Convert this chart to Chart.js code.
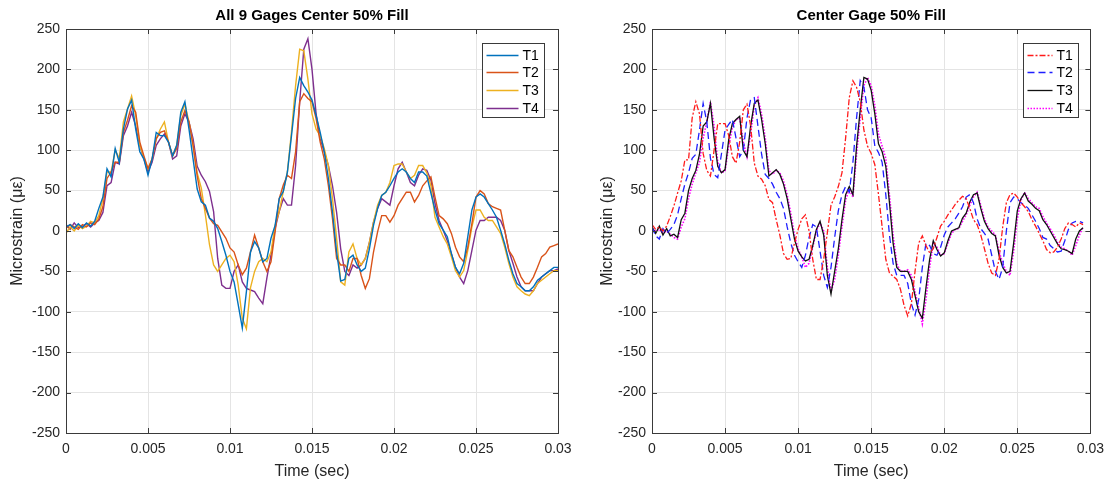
<!DOCTYPE html>
<html>
<head>
<meta charset="utf-8">
<script src="https://cdn.jsdelivr.net/npm/chart.js@4.4.0/dist/chart.umd.min.js"></script>
<style>
  html, body { margin: 0; padding: 0; background: #fff; }
  #wrap { position: relative; width: 1112px; height: 483px; overflow: hidden; }
  canvas { position: absolute; top: 0; }
  #leftChart { left: 0; }
  #rightChart { left: 560px; }
</style>
</head>
<body>
<div id="wrap">
  <canvas id="leftChart" width="620" height="483"></canvas>
  <canvas id="rightChart" width="552" height="483"></canvas>
</div>
<script>
// sample times in milliseconds (axis labelled in seconds)
const timeMs = [
  0, 0.25, 0.5, 0.75, 1, 1.25, 1.5, 1.75,
  2, 2.25, 2.5, 2.75, 3, 3.25, 3.5, 3.75,
  4, 4.25, 4.5, 4.75, 5, 5.25, 5.5, 5.75,
  6, 6.25, 6.5, 6.75, 7, 7.25, 7.5, 7.75,
  8, 8.25, 8.5, 8.75, 9, 9.25, 9.5, 9.75,
  10, 10.25, 10.5, 10.75, 11, 11.25, 11.5, 11.75,
  12, 12.25, 12.5, 12.75, 13, 13.25, 13.5, 13.75,
  14, 14.25, 14.5, 14.75, 15, 15.25, 15.5, 15.75,
  16, 16.25, 16.5, 16.75, 17, 17.25, 17.5, 17.75,
  18, 18.25, 18.5, 18.75, 19, 19.25, 19.5, 19.75,
  20, 20.25, 20.5, 20.75, 21, 21.25, 21.5, 21.75,
  22, 22.25, 22.5, 22.75, 23, 23.25, 23.5, 23.75,
  24, 24.25, 24.5, 24.75, 25, 25.25, 25.5, 25.75,
  26, 26.25, 26.5, 26.75, 27, 27.25, 27.5, 27.75,
  28, 28.25, 28.5, 28.75, 29, 29.25, 29.5, 29.75,
  30
];
const xTickLabels = ['0', '0.005', '0.01', '0.015', '0.02', '0.025', '0.03'];
const seriesNames = ['T1', 'T2', 'T3', 'T4'];

// left plot: all 9 gages, center 50% fill
const gagesT1 = [
  5, 8, 3, 9, 4, 10, 6, 12,
  28, 42, 77, 67, 102, 85, 126, 151,
  162, 126, 98, 89, 69, 89, 122, 118,
  118, 110, 93, 106, 147, 160, 126, 89,
  52, 36, 32, 16, 12, 3, -13, -30,
  -50, -63, -91, -120, -75, -26, -13, -21,
  -38, -34, -9, 7, 40, 49, 73, 118,
  164, 190, 180, 172, 162, 143, 122, 98,
  65, 23, -26, -62, -60, -34, -30, -42,
  -50, -46, -22, 7, 28, 44, 48, 56,
  65, 73, 77, 73, 65, 60, 73, 73,
  68, 47, 26, 9, 1, -7, -28, -45,
  -53, -40, -7, 26, 42, 46, 42, 34,
  26, 17, 1, -16, -36, -53, -65, -69,
  -74, -74, -69, -61, -57, -53, -49, -45,
  -45
];
const gagesT2 = [
  3, 8, 5, 2, 8, 5, 10, 8,
  15, 30, 65, 73, 85, 85, 122, 137,
  155, 147, 110, 93, 77, 89, 114, 122,
  124, 110, 93, 102, 135, 149, 135, 106,
  68, 40, 28, 16, 9, 7, -1, -9,
  -21, -26, -42, -54, -46, -26, -5, -21,
  -38, -50, -38, -1, 40, 57, 69, 65,
  98, 160, 170, 164, 160, 139, 110, 89,
  56, 15, -34, -42, -42, -50, -34, -34,
  -55, -71, -59, -26, -1, 19, 19, 11,
  19, 32, 40, 48, 48, 36, 44, 56,
  62, 67, 42, 19, 15, 9, -3, -20,
  -32, -38, -20, 9, 42, 50, 46, 34,
  30, 28, 26, 1, -24, -32, -45, -57,
  -65, -65, -57, -45, -32, -28, -20, -18,
  -16
];
const gagesT3 = [
  -3, 5, 0, 7, 3, 6, 12, 10,
  19, 40, 73, 73, 100, 90, 135, 151,
  167, 143, 106, 91, 77, 89, 114, 126,
  135, 110, 93, 106, 143, 157, 135, 106,
  72, 53, 20, -17, -42, -50, -42, -34,
  -30, -38, -67, -108, -121, -70, -50, -38,
  -34, -38, -26, 7, 24, 49, 73, 123,
  180, 225, 223, 188, 145, 126, 118, 102,
  81, 40, -9, -63, -67, -26, -16, -34,
  -42, -34, -14, 11, 32, 44, 48, 60,
  81, 83, 83, 73, 65, 69, 81, 81,
  72, 56, 17, 5, -7, -16, -32, -49,
  -57, -49, -24, 5, 26, 26, 17, 13,
  13, 5, -3, -20, -40, -57, -69, -74,
  -78, -80, -74, -65, -61, -57, -53, -49,
  -49
];
const gagesT4 = [
  8, 2, 10, 4, 6, 9, 5, 10,
  13, 23, 56, 60, 85, 83, 118, 130,
  147, 130, 106, 89, 73, 85, 106, 114,
  120, 110, 89, 93, 130, 145, 135, 114,
  80, 69, 61, 49, 24, -34, -67, -71,
  -71, -50, -42, -63, -71, -73, -75, -83,
  -90, -58, -30, 3, 24, 40, 32, 32,
  81, 160, 225, 238, 200, 145, 114, 98,
  81, 56, 23, -22, -50, -55, -42, -46,
  -42, -34, -14, 11, 28, 40, 36, 32,
  56, 77, 85, 73, 60, 56, 69, 77,
  75, 63, 34, 13, 1, -12, -28, -45,
  -57, -65, -49, -24, 1, 13, 13, 17,
  17, 17, 13, 1, -24, -40, -57, -69,
  -74, -74, -74, -65, -57, -53, -49, -49,
  -47
];

// right plot: center gage, 50% fill (record ends near 0.0295 s)
const centerT1 = [
  8, 2, 5, 0, 6, 18, 31, 47,
  62, 88, 88, 140, 160, 145, 96, 75,
  68, 100, 133, 133, 133, 118, 92, 84,
  110, 150, 157, 130, 84, 68, 64, 56,
  39, 35, 14, -5, -28, -35, -34, -15,
  2, 15, 20, 0, -35, -60, -60, -35,
  -2, 32, 42, 55, 72, 115, 165, 186,
  178, 160, 125, 105, 96, 82, 45, 5,
  -35, -52, -56, -60, -72, -92, -105, -90,
  -50, -15, -6, -18, -27, -22, -8, 6,
  12, 20, 26, 33, 38, 43, 40, 28,
  14, 8, -5, -22, -40, -52, -55, -35,
  5, 35, 45, 47, 42, 35, 30, 24,
  14, 6, -3, -12, -23, -27, -26, -20,
  -10, 3, 10, 8, 5, 10, 8
];
const centerT2 = [
  5, -6, -10, 3, -3, 2, 8, 20,
  40, 58, 72, 90, 95, 125, 158, 135,
  90, 70, 66, 95, 125, 132, 138, 115,
  92, 100, 140, 163, 165, 130, 95, 70,
  65, 58, 48, 40, 28, 5, -15, -30,
  -38, -45, -30, -8, 8, 5, -25, -55,
  -70, -45, -8, 25, 45, 55, 48, 85,
  140, 186, 178, 150, 140, 105, 97, 85,
  45, -5, -40, -55, -55, -55, -65, -90,
  -104, -85, -45, -15, -18, -28, -30, -20,
  -5, 5, 10, 15, 22, 30, 42, 45,
  35, 15, 3, -3, -10, -30, -50, -60,
  -45, 0, 35, 42, 40, 35, 32, 28,
  20, 12, 3, -8, -10, -18, -22, -26,
  -25, -12, 2, 10, 12, 12, 10
];
const centerT3 = [
  5, -3, 6, -5, 3, -6, -4, -8,
  14, 22, 50, 65, 75, 95, 130, 135,
  158, 115, 80, 72, 76, 113, 133, 138,
  142, 100, 92, 130, 158, 162, 138, 108,
  68, 72, 76, 70, 58, 40, 15, -10,
  -25, -32, -37, -35, -18, 2, 12, -5,
  -55, -78, -50, -22, 14, 45, 55, 45,
  105, 150, 190, 188, 174, 145, 108, 98,
  80, 35, -15, -45, -50, -50, -50, -60,
  -80, -100, -108, -70, -35, -12, -23, -31,
  -27, -12, 0, 2, 4, 16, 22, 36,
  45, 47, 28, 12, 3, -3, -6, -30,
  -45, -52, -50, -15, 25, 40, 47, 37,
  33, 28, 25, 14, 8, 0, -8, -16,
  -22, -23, -25, -28, -10, 0, 4
];
const centerT4 = [
  3, 0, 2, -2, 0, -4, -8, -10,
  5, 15, 40, 58, 72, 85, 115, 135,
  160, 130, 85, 72, 74, 105, 128, 138,
  140, 110, 92, 120, 155, 165, 145, 115,
  75, 70, 75, 72, 62, 45, 22, -5,
  -22, -32, -45, -40, -20, 0, 10, 0,
  -45, -75, -60, -30, 5, 38, 52, 42,
  95, 140, 180, 190, 180, 155, 120, 105,
  90, 45, -5, -40, -50, -50, -48, -55,
  -75, -95, -115, -85, -45, -15, -20, -30,
  -28, -15, -3, 2, 3, 12, 20, 32,
  42, 48, 32, 15, 5, 0, -5, -25,
  -40, -50, -55, -25, 15, 38, 48, 40,
  35, 30, 28, 18, 10, 3, -5, -14,
  -20, -22, -25, -30, -18, -5, 5
];

Chart.defaults.font.family = '"Liberation Sans", Arial, Helvetica, sans-serif';
Chart.defaults.color = '#262626';

function toPoints(values) {
  return values.map((v, i) => ({ x: timeMs[i], y: v }));
}

// MATLAB style box, inward ticks and the legend inside the axes
const framePlugin = {
  id: 'frame',
  afterDatasetsDraw(chart, args, opts) {
    const { ctx, chartArea: a, scales } = chart;
    ctx.save();
    ctx.strokeStyle = '#3a3a3a';
    ctx.lineWidth = 1;
    ctx.beginPath();
    scales.x.ticks.forEach(t => {
      const px = Math.round(scales.x.getPixelForValue(t.value)) + 0.5;
      ctx.moveTo(px, a.bottom); ctx.lineTo(px, a.bottom - 5);
      ctx.moveTo(px, a.top); ctx.lineTo(px, a.top + 5);
    });
    scales.y.ticks.forEach(t => {
      const py = Math.round(scales.y.getPixelForValue(t.value)) + 0.5;
      ctx.moveTo(a.left, py); ctx.lineTo(a.left + 5, py);
      ctx.moveTo(a.right, py); ctx.lineTo(a.right - 5, py);
    });
    ctx.stroke();
    ctx.strokeRect(Math.round(a.left) + 0.5, Math.round(a.top) + 0.5,
                   Math.round(a.width), Math.round(a.height));

    // legend box
    const bx = Math.round(a.right - opts.right - opts.width) + 0.5;
    const by = Math.round(a.top + 14) + 0.5;
    ctx.fillStyle = '#fff';
    ctx.fillRect(bx, by, opts.width, 74);
    ctx.strokeStyle = '#3a3a3a';
    ctx.strokeRect(bx, by, opts.width, 74);
    ctx.font = '14px "Liberation Sans", Arial, sans-serif';
    ctx.textBaseline = 'middle';
    chart.data.datasets.forEach((ds, i) => {
      const y = Math.round(by + 11 + i * 17.7) + 0.5;
      ctx.strokeStyle = ds.borderColor;
      ctx.lineWidth = ds.borderWidth;
      ctx.setLineDash(ds.borderDash || []);
      ctx.beginPath();
      ctx.moveTo(bx + 4, y);
      ctx.lineTo(bx + 4 + opts.sample, y);
      ctx.stroke();
      ctx.setLineDash([]);
      ctx.fillStyle = '#000';
      ctx.fillText(ds.label, bx + opts.sample + 8, y + 1);
    });
    ctx.restore();
  }
};

function makeOptions(cfg) {
  return {
    responsive: false,
    animation: false,
    layout: { padding: { left: 0, right: cfg.padRight, top: 0, bottom: 0 } },
    elements: { point: { radius: 0 }, line: { tension: 0 } },
    plugins: {
      legend: { display: false },
      tooltip: { enabled: false },
      title: {
        display: true,
        text: cfg.title,
        fullSize: false,
        color: '#000',
        font: { size: 15, weight: 'bold' },
        padding: { top: 7, bottom: 4 }
      },
      frame: cfg.legend
    },
    scales: {
      x: {
        type: 'linear',
        min: 0,
        max: 30,
        ticks: {
          stepSize: 5,
          padding: 8,
          maxRotation: 0,
          autoSkip: false,
          color: '#262626',
          font: { size: 14 },
          callback: v => xTickLabels[Math.round(v / 5)]
        },
        grid: { color: '#e4e4e4', drawTicks: false },
        border: { display: false },
        title: {
          display: true,
          text: 'Time (sec)',
          color: '#262626',
          font: { size: 16 },
          padding: { top: 0, bottom: 2 }
        },
        afterFit: s => { s.height = 50; }
      },
      y: {
        min: -250,
        max: 250,
        ticks: { stepSize: 50, padding: 6, color: '#262626', font: { size: 14 } },
        grid: { color: '#e4e4e4', drawTicks: false },
        border: { display: false },
        title: {
          display: true,
          text: 'Microstrain (με)',
          color: '#262626',
          font: { size: 16 },
          padding: { top: cfg.yTitlePad, bottom: 0 }
        },
        afterFit: s => { s.width = cfg.yWidth; }
      }
    }
  };
}

const leftColors = ['#0072BD', '#D95319', '#EDB120', '#7E2F8E'];
const leftValues = [gagesT1, gagesT2, gagesT3, gagesT4];

new Chart(document.getElementById('leftChart'), {
  type: 'line',
  data: {
    datasets: leftValues.map((vals, i) => ({
      label: seriesNames[i],
      data: toPoints(vals),
      borderColor: leftColors[i],
      borderWidth: 1.4,
      fill: false
    }))
  },
  options: makeOptions({
    title: 'All 9 Gages Center 50% Fill',
    padRight: 62,
    yWidth: 66,
    yTitlePad: 8,
    legend: { right: 14, width: 62, sample: 32 }
  }),
  plugins: [framePlugin]
});

const rightColors = ['#ff1a1a', '#1f1fff', '#111111', '#ff00ff'];
const rightDashes = [[6, 2, 2, 2], [7, 4], [], [1.5, 1.5]];
const rightWidths = [1.3, 1.3, 1.3, 1.6];
const rightValues = [centerT1, centerT2, centerT3, centerT4];

new Chart(document.getElementById('rightChart'), {
  type: 'line',
  data: {
    datasets: rightValues.map((vals, i) => ({
      label: seriesNames[i],
      data: toPoints(vals),
      borderColor: rightColors[i],
      borderDash: rightDashes[i],
      borderWidth: rightWidths[i],
      fill: false
    }))
  },
  options: makeOptions({
    title: 'Center Gage 50% Fill',
    padRight: 18,
    yWidth: 92,
    yTitlePad: 38,
    legend: { right: 12, width: 55, sample: 25 }
  }),
  plugins: [framePlugin]
});
</script>
</body>
</html>
